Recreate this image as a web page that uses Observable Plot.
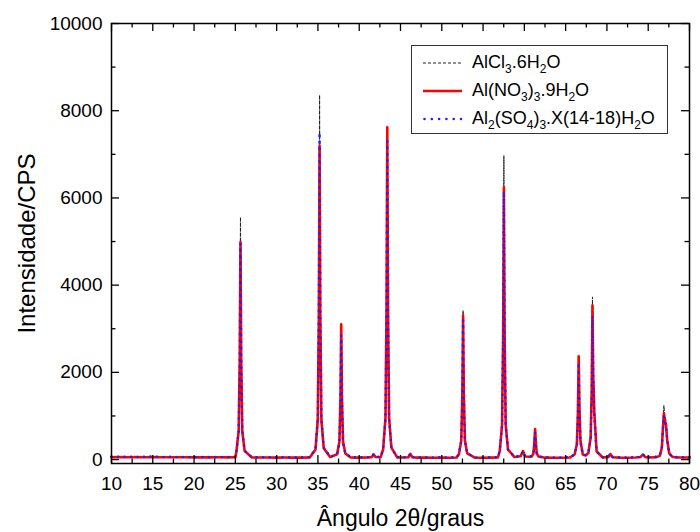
<!DOCTYPE html>
<html><head><meta charset="utf-8">
<script src="https://cdn.jsdelivr.net/npm/d3@7"></script>
<script src="https://cdn.jsdelivr.net/npm/@observablehq/plot@0.6"></script>
<style>
body{margin:0;background:#fff;}
#wrap{position:relative;width:700px;height:532px;font-family:"Liberation Sans",Arial,sans-serif;background:#fff;}
#legend{position:absolute;left:411px;top:45px;width:257px;height:89px;border:1.3px solid #333;background:#fff;box-sizing:border-box;}
.row{position:absolute;left:0;width:100%;height:28px;}
.row svg{position:absolute;left:11px;top:0;}
.row span{position:absolute;left:60px;top:3px;font-size:18px;line-height:20px;white-space:nowrap;color:#000;}
.row sub{font-size:12px;vertical-align:-5px;line-height:0;}
</style></head>
<body><div id="wrap"></div>
<script>
// 2θ angles (degrees)
const angle = [
 10,11,12,13,14,15,16,17,18,19,20,21,22,23,24,25,
 25.12,25.40,25.53,25.62,25.71,25.84,26.12,
 27,28,29,30,31,32,33,34,
 34.70,34.98,35.11,35.20,35.29,35.42,35.70,
 36.5,
 37.32,37.60,37.73,37.82,37.91,38.04,38.32,
 39,40,41,
 41.5,41.75,42.0,
 42.6,
 42.90,43.18,43.31,43.40,43.49,43.62,43.90,
 44.6,45.5,
 45.95,46.2,46.45,
 47,48,49,50,51,51.8,
 52.08,52.36,52.49,52.58,52.67,52.80,53.08,
 54,55,56,56.8,
 57.02,57.30,57.43,57.52,57.61,57.74,58.02,
 58.8,
 59.55,59.83,60.1,
 60.6,
 60.9,61.1,61.2,61.3,61.4,61.5,61.7,
 62.5,63.5,64.5,65.5,
 66.08,66.36,66.49,66.58,66.67,66.80,67.08,
 67.45,
 67.75,68.03,68.16,68.25,68.34,68.47,68.75,
 69.5,
 70.15,70.42,70.7,
 71.5,72.5,73.5,
 74.05,74.35,74.65,
 75.2,76.0,
 76.4,76.65,76.8,76.9,77.0,77.15,77.3,77.55,77.9,
 78.5,79.2,80
];
// AlCl3.6H2O (dashed black)
const alcl3 = [
 62,58,60,57,59,61,56,58,55,57,54,56,53,55,54,58,
 193,715,2532,5560,2532,715,220,
 52,51,50,49,50,48,49,52,
 258,1047,3790,8360,3790,1047,299,
 60,
 123,398,1355,2950,1355,398,137,
 50,49,52,
 60,120,62,
 58,
 238,946,3404,7500,3404,946,275,
 55,50,
 58,135,56,
 49,48,47,48,46,50,
 132,453,1565,3420,1565,453,149,
 47,46,48,52,
 221,879,3163,6970,3163,879,256,
 62,
 80,200,75,
 70,
 75,145,365,680,365,145,75,
 48,46,47,50,
 119,349,1085,2350,1200,418,119,
 100,
 160,528,1706,3730,2074,1154,197,
 52,
 60,130,58,
 48,47,50,
 62,120,60,
 52,60,
 90,300,900,1240,1000,900,500,150,70,
 52,50,50
];
// Al(NO3)3.9H2O (solid red)
const alno3 = [
 55,58,54,57,55,60,53,55,52,54,51,53,50,52,51,55,
 175,645,2274,4990,2274,645,200,
 48,47,46,45,46,44,45,48,
 225,904,3265,7200,3265,904,261,
 55,
 122,412,1420,3100,1420,412,138,
 46,45,48,
 56,115,58,
 54,
 237,957,3455,7620,3455,957,275,
 51,46,
 54,130,52,
 45,44,43,44,42,46,
 125,435,1509,3300,1509,435,142,
 43,42,44,48,
 199,788,2832,6240,2832,788,230,
 58,
 76,195,72,
 66,
 72,144,373,700,373,144,72,
 44,42,43,46,
 116,348,1092,2370,1208,418,116,
 96,
 151,500,1618,3540,1968,1094,186,
 48,
 56,125,54,
 44,43,46,
 58,115,56,
 48,56,
 85,270,780,1060,900,800,450,140,66,
 48,46,46
];
// Al2(SO4)3.X(14-18)H2O (dotted blue)
const also4 = [
 65,62,66,60,63,68,60,62,58,61,57,59,56,58,57,60,
 180,645,2259,4950,2259,645,205,
 54,52,52,50,51,50,51,54,
 238,946,3404,7500,3404,946,275,
 62,
 122,388,1311,2850,1311,388,136,
 52,51,53,
 62,125,64,
 60,
 235,924,3315,7300,3315,924,271,
 57,52,
 60,140,58,
 51,50,49,50,48,52,
 129,428,1468,3200,1468,428,145,
 49,48,50,54,
 203,782,2795,6150,2795,782,233,
 64,
 82,190,78,
 72,
 75,137,336,620,336,137,75,
 50,48,49,52,
 117,334,1028,2220,1136,399,117,
 102,
 149,474,1514,3300,1838,1026,182,
 54,
 62,135,60,
 50,49,52,
 64,125,62,
 54,62,
 88,260,740,1000,860,780,430,135,68,
 54,52,52
];
const seriesLabels = [
 'AlCl<sub>3</sub>.6H<sub>2</sub>O',
 'Al(NO<sub>3</sub>)<sub>3</sub>.9H<sub>2</sub>O',
 'Al<sub>2</sub>(SO<sub>4</sub>)<sub>3</sub>.X(14-18)H<sub>2</sub>O'
];
const xMajor = [10,15,20,25,30,35,40,45,50,55,60,65,70,75,80];
const xMinor = [12.5,17.5,22.5,27.5,32.5,37.5,42.5,47.5,52.5,57.5,62.5,67.5,72.5,77.5];
const yMajor = [0,2000,4000,6000,8000,10000];
const yMinor = [1000,3000,5000,7000,9000];

const W = 700, H = 532, mt = 23, mb = 69, ml = 111, mr = 11;
const ph = H - mt - mb, pw = W - ml - mr;
const rows = angle.map((a, i) => ({a, k: alcl3[i], r: alno3[i], b: also4[i]}));

const chart = Plot.plot({
  width: W, height: H, marginTop: mt, marginBottom: mb, marginLeft: ml, marginRight: mr,
  style: {fontFamily: "Liberation Sans, Arial, sans-serif", background: "#fff", color: "#000", overflow: "visible"},
  x: {domain: [10, 80]},
  y: {domain: [-90, 10000]},
  marks: [
    Plot.lineY(rows, {x: "a", y: "k", stroke: "#222", strokeWidth: 1, strokeDasharray: "3,2"}),
    Plot.lineY(rows, {x: "a", y: "r", stroke: "#ff0000", strokeWidth: 2.6}),
    Plot.lineY(rows, {x: "a", y: "b", stroke: "#1f1fff", strokeWidth: 2.6, strokeDasharray: "0,6.5", strokeLinecap: "round"}),
    Plot.tickX(xMajor, {x: d => d, insetTop: ph - 8, stroke: "#000", strokeWidth: 1.3}),
    Plot.tickX(xMinor, {x: d => d, insetTop: ph - 4.5, stroke: "#000", strokeWidth: 1.3}),
    Plot.tickX(xMajor, {x: d => d, insetBottom: ph - 8, stroke: "#000", strokeWidth: 1.3}),
    Plot.tickX(xMinor, {x: d => d, insetBottom: ph - 4.5, stroke: "#000", strokeWidth: 1.3}),
    Plot.tickY(yMajor, {y: d => d, insetRight: pw - 8, stroke: "#000", strokeWidth: 1.3}),
    Plot.tickY(yMinor, {y: d => d, insetRight: pw - 4.5, stroke: "#000", strokeWidth: 1.3}),
    Plot.tickY(yMajor, {y: d => d, insetLeft: pw - 8, stroke: "#000", strokeWidth: 1.3}),
    Plot.tickY(yMinor, {y: d => d, insetLeft: pw - 4.5, stroke: "#000", strokeWidth: 1.3}),
    Plot.frame({stroke: "#000", strokeWidth: 1.5}),
    Plot.axisX({ticks: xMajor, tickSize: 0, tickPadding: 13, fontSize: 19, label: null, tickFormat: d => String(d)}),
    Plot.axisY({ticks: yMajor, tickSize: 0, tickPadding: 9, fontSize: 19, label: null, tickFormat: d => String(d)}),
    Plot.text(["Ângulo 2θ/graus"], {frameAnchor: "bottom", dy: 55, fontSize: 23, textAnchor: "middle", lineAnchor: "middle"}),
    Plot.text(["Intensidade/CPS"], {frameAnchor: "left", dx: -84, rotate: -90, fontSize: 24, textAnchor: "middle", lineAnchor: "middle"})
  ]
});
const wrap = document.getElementById("wrap");
wrap.appendChild(chart);

// legend overlay inside the frame
const legend = document.createElement("div");
legend.id = "legend";
const samples = [
  '<line x1="0" y1="14" x2="39" y2="14" stroke="#222" stroke-width="1" stroke-dasharray="3,2"/>',
  '<line x1="0" y1="14" x2="39" y2="14" stroke="#ff0000" stroke-width="2.4"/>',
  '<line x1="1.5" y1="14" x2="39" y2="14" stroke="#1f1fff" stroke-width="2.6" stroke-dasharray="0,7.3" stroke-linecap="round"/>'
];
const rowTops = [2.7, 31, 59.3];
seriesLabels.forEach((lab, i) => {
  const r = document.createElement("div");
  r.className = "row";
  r.style.top = rowTops[i] + "px";
  r.innerHTML = `<svg width="42" height="28">${samples[i]}</svg><span>${lab}</span>`;
  legend.appendChild(r);
});
wrap.appendChild(legend);
</script>
</body></html>
